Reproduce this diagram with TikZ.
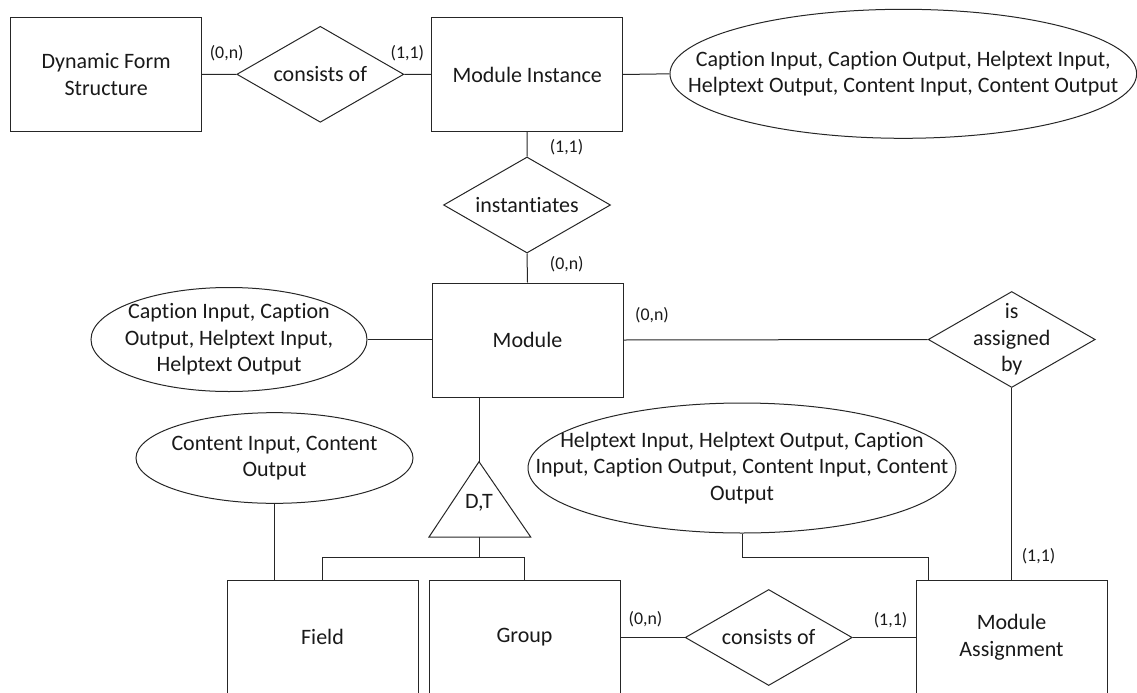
\documentclass[tikz,border=0pt]{standalone}
\usepackage{fontspec}
\setmainfont{Carlito}[RawFeature={-liga;-clig;-calt;-dlig}]
\usetikzlibrary{shapes.geometric}
\begin{document}
\begin{tikzpicture}[x=0.75pt,y=-0.75pt,
  every node/.style={font=\fontsize{16.5}{20}\selectfont, text=black!90},
  erline/.style={draw=black!85, line width=0.75pt},
  entity/.style={erline, rectangle, minimum width=143.25pt, minimum height=85.5pt, inner sep=0pt, align=center},
  rel/.style={erline, diamond, minimum width=125.25pt, minimum height=72pt, inner sep=0pt},
  attr/.style={erline, ellipse, inner sep=0pt},
  card/.style={font=\fontsize{13.4}{15}\selectfont, inner sep=0pt}
]
\useasboundingbox (0,0) rectangle (1137,692);

% entities
\node[entity] (dfs) at (106.2,74.5) {Dynamic Form\\Structure};
\node[entity] (mi) at (527.2,74.5) {Module Instance};
\node[entity] (mod) at (527.5,340) {Module};
\node[entity] (field) at (322.5,637) {Field};
\node[entity] (group) at (524.5,637) {Group};
\node[entity] (ma) at (1011.5,637) {Module\\Assignment};

% relationships
\node[rel, label={center:consists of}] (cons1) at (320.3,74.3) {};
\node[rel, label={center:instantiates}] (inst) at (527,205) {};
\node[rel, label={[align=center]center:is\\assigned\\by}] (iab) at (1011.7,339.5) {};
\node[rel, label={center:consists of}] (cons2) at (768.7,637.5) {};

% attribute groups
\node[attr, minimum width=350pt, minimum height=96.75pt,
  label={[align=center]center:Caption Input, Caption Output, Helptext Input,\\Helptext Output, Content Input, Content Output}]
  (miattr) at (903.3,73.8) {};
\node[attr, minimum width=207pt, minimum height=78pt,
  label={[align=center]center:Caption Input, Caption\\Output, Helptext Input,\\Helptext Output}]
  (modattr) at (229,339.5) {};
\node[attr, minimum width=207.75pt, minimum height=68pt,
  label={[align=center]center:Content Input, Content\\Output}]
  (fieldattr) at (274.5,458) {};
\node[attr, minimum width=321pt, minimum height=97.5pt,
  label={[align=center]center:Helptext Input, Helptext Output, Caption\\Input, Caption Output, Content Input, Content\\Output}]
  (maattr) at (742,468) {};

% specialisation triangle
\coordinate (tA) at (479,461.7);
\coordinate (tL) at (429,537);
\coordinate (tR) at (530.7,537);
\coordinate (tB) at (479,537);
\coordinate (fork) at (479,557.5);
\draw[erline] (tA) -- (tL) -- (tR) -- cycle;
\node (dt) at (479,503.3) {D,T};

% cardinalities
\node[card] (k1) at (226.7,53.3) {(0,n)};
\node[card] (k2) at (407.3,53.3) {(1,1)};
\node[card] (k3) at (566.5,147) {(1,1)};
\node[card] (k4) at (566.7,264) {(0,n)};
\node[card] (k5) at (652,315) {(0,n)};
\node[card] (k6) at (1038.5,556.5) {(1,1)};
\node[card] (k7) at (645.5,619.3) {(0,n)};
\node[card] (k8) at (890.5,620) {(1,1)};

% connectors
\draw[erline] (dfs.east) -- (cons1.west);
\draw[erline] (cons1.east) -- (mi.west);
\draw[erline] (mi.east) -- (miattr.west);
\draw[erline] (mi.south) -- (inst.north);
\draw[erline] (inst.south) -- (mod.north);
\draw[erline] (modattr.east) -- (modattr.east -| mod.west);
\draw[erline] (mod.east) -- (iab.west);
\draw[erline] (iab.south) -- (iab.south |- ma.north);
\draw[erline] (mod.south -| tA) -- (tA);
\draw[erline] (tB) -- (fork);
\draw[erline] (field.north) -- (field.north |- fork) -- (group.north |- fork) -- (group.north);
\draw[erline] (fieldattr.south) -- (fieldattr.south |- field.north);
\draw[erline] (maattr.south) -- ++(0,24) -| ([xshift=10.1pt]ma.north west);
\draw[erline] (group.east |- cons2.west) -- (cons2.west);
\draw[erline] (cons2.east) -- (cons2.east -| ma.west);
\end{tikzpicture}
\end{document}
